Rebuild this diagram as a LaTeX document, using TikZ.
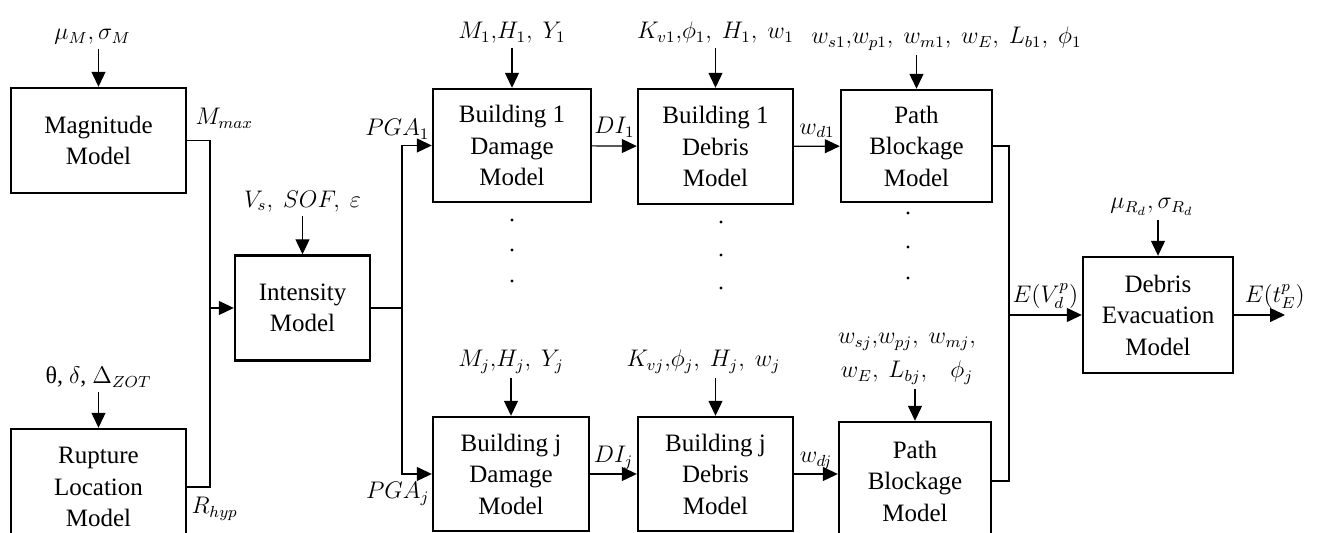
\documentclass[tikz,border=0pt]{standalone}
\usepackage{fontspec}
\setmainfont{Liberation Serif}
\usepackage{tikz}
\usetikzlibrary{positioning, arrows.meta}

\begin{document}
\begin{tikzpicture}[
  x=0.5pt, y=0.5pt,
  font=\fontsize{12.5}{15.75}\selectfont,
  figmodel/.style={
    rectangle, draw=black, line width=1.2pt,
    align=center, inner sep=2pt,
  },
  figinput/.style={
    font=\fontsize{12}{14}\selectfont, inner sep=2pt, align=center,
  },
  figflow/.style={
    -{Triangle[length=7.5pt, width=7pt]}, line width=0.6pt,
  },
  figwire/.style={line width=0.6pt},
]
\useasboundingbox (0,0) rectangle (1339,533);
\node[figmodel, minimum width=87.5pt, minimum height=52.5pt] (figmag) at (98.5,392.5) {Magnitude\\Model};
\node[figmodel, minimum width=87.5pt, minimum height=58pt] (figrup) at (98.5,46) {Rupture\\Location\\Model};
\node[figmodel, minimum width=67.5pt, minimum height=52.5pt] (figint) at (302.5,225) {Intensity\\Model};
\node[figmodel, minimum width=79pt, minimum height=56.5pt] (figdam1) at (512,387.5) {Building 1\\Damage\\Model};
\node[figmodel, minimum width=77.5pt, minimum height=57.5pt] (figdeb1) at (715.5,386.5) {Building 1\\Debris\\Model};
\node[figmodel, minimum width=75.5pt, minimum height=56pt] (figpath1) at (916.5,387) {Path\\Blockage\\Model};
\node[figmodel, minimum width=78pt, minimum height=57pt] (figdamj) at (511,59) {Building j\\Damage\\Model};
\node[figmodel, minimum width=77.5pt, minimum height=57pt] (figdebj) at (715.5,59) {Building j\\Debris\\Model};
\node[figmodel, minimum width=76pt, minimum height=59pt] (figpathj) at (915,52) {Path\\Blockage\\Model};
\node[figmodel, minimum width=75pt, minimum height=58pt] (figevac) at (1158,218) {Debris\\Evacuation\\Model};

\node[figinput, above=19pt of figmag, xshift=-3pt] (figinmag) {$\mu_M,\sigma_M$};
\node[figinput, above=18pt of figrup] (figinrup) {θ, $\delta$,\ $\Delta_{ZOT}$};
\node[figinput, above=19pt of figint] (figinint) {$V_s,\ SOF,\ \varepsilon$};
\node[figinput, above=20pt of figdam1] (figindam1) {$M_1{,}H_1,\ Y_1$};
\node[figinput, above=20pt of figdeb1] (figindeb1) {$K_{v1}{,}\phi_1,\ H_1,\ w_1$};
\node[figinput, above=17pt of figpath1, xshift=15pt] (figinpath1) {$w_{s1}{,}w_{p1},\ w_{m1},\ w_E,\ L_{b1},\ \phi_1$};
\node[figinput, above=18pt of figevac, xshift=-3pt] (figinevac) {$\mu_{R_d},\sigma_{R_d}$};
\node[figinput, above=19pt of figdamj] (figindamj) {$M_j{,}H_j,\ Y_j$};
\node[figinput, above=19pt of figdebj, xshift=-6pt] (figindebj) {$K_{vj}{,}\phi_j,\ H_j,\ w_j$};
\node[figinput, above=16pt of figpathj, xshift=-4pt] (figinpathj) {$w_{sj}{,}w_{pj},\ w_{mj},$\\[3pt]$w_E,\ L_{bj},\ \;\;\phi_j$};

\node[figinput, above right=4pt and 2pt of figmag.east] (figmmax) {$M_{max}$};
\node[figinput, below right=3pt and 0pt of figrup.east] (figrhyp) {$R_{hyp}$};
\node[figinput, above left=1pt and -1pt of figdam1.west] (figpga1) {$PGA_1$};
\node[figinput, below left=2pt and -1pt of figdamj.west] (figpgaj) {$PGA_j$};

\coordinate (figjoinmr) at (210,225);
\coordinate (figsplit) at (402,225);
\coordinate (figjoinp) at (1009,218);
\coordinate (figout) at (1285,218);

\draw[figflow] (figinmag.south -| figmag.north) -- (figmag.north);
\draw[figflow] (figinrup) -- (figrup);
\draw[figflow] (figinint) -- (figint);
\draw[figflow] (figindam1) -- (figdam1);
\draw[figflow] (figindeb1) -- (figdeb1);
\draw[figflow] (figinpath1.south -| figpath1.north) -- (figpath1.north);
\draw[figflow] (figinevac.south -| figevac.north) -- (figevac.north);
\draw[figflow] (figindamj) -- (figdamj);
\draw[figflow] (figindebj.south -| figdebj.north) -- (figdebj.north);
\draw[figflow] (figinpathj.south -| figpathj.north) -- (figpathj.north);

\draw[figwire] (figmag.east) -| (figjoinmr);
\draw[figwire] (figrup.east) -| (figjoinmr);
\draw[figflow] (figjoinmr) -- (figint.west);
\draw[figwire] (figint.east) -- (figsplit);
\draw[figflow] (figsplit) |- (figdam1.west);
\draw[figflow] (figsplit) |- (figdamj.west);
\draw[figflow] (figdam1) -- node[figinput, above=2pt] {$DI_1$} (figdeb1);
\draw[figflow] (figdamj) -- node[figinput, above] {$DI_j$} (figdebj);
\draw[figflow] (figdeb1) -- node[figinput, above=2pt] {$w_{d1}$} (figpath1);
\draw[figflow] (figdebj.east) -- node[figinput, above] {$w_{dj}$} (figpathj.west |- figdebj.east);
\draw[figwire] (figpath1.east) -| (figjoinp);
\draw[figwire] (figpathj.east) -| (figjoinp);
\draw[figflow] (figjoinp) -- node[figinput, above=1pt] {$E(V_d^p)$} (figevac.west);
\draw[figflow] (figevac.east) -- node[figinput, above=1pt, pos=0.8] {$E(t_E^p)$} (figout);

\fill (512,313) circle[radius=0.8pt] (512,283) circle[radius=0.8pt] (512,252) circle[radius=0.8pt];
\fill (721,311) circle[radius=0.8pt] (721,278) circle[radius=0.8pt] (721,245) circle[radius=0.8pt];
\fill (908,320) circle[radius=0.8pt] (908,286) circle[radius=0.8pt] (908,255) circle[radius=0.8pt];
\end{tikzpicture}
\end{document}
